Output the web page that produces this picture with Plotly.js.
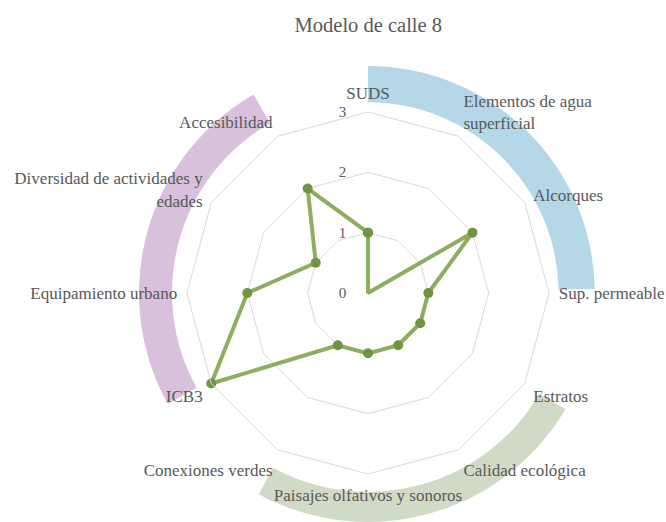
<!DOCTYPE html>
<html>
<head>
<meta charset="utf-8">
<script src="https://cdn.plot.ly/plotly-3.0.1.min.js"></script>
<style>
  html, body { margin: 0; padding: 0; background: #fff; }
  #myDiv { width: 666px; height: 522px; }
</style>
</head>
<body>
<div id="myDiv"></div>
<script>
// Radar categories, clockwise from the top
const categories = [
  'SUDS',
  'Elementos de agua<br>superficial',
  'Alcorques',
  'Sup. permeable',
  'Estratos',
  'Calidad ecológica',
  'Paisajes olfativos y sonoros',
  'Conexiones verdes',
  'ICB3',
  'Equipamiento urbano',
  'Diversidad de actividades y<br>edades',
  'Accesibilidad'
];
const scores = [1, 0, 2, 1, 1, 1, 1, 1, 3, 2, 1, 2];
const radialTicks = [0, 1, 2, 3];

// Grouping bands around the radar (degrees, clockwise from top)
const bandCenters = [44.5, 164.5, 285.5];
const bandWidths = [89, 88, 89];
const bandBase = [3.16, 3.3, 3.25];
const bandDepth = [0.6, 0.55, 0.55];
const bandColors = ['#b5d8e8', '#d1dac6', '#d9c0dc'];

// close the polygon
const thetaClosed = categories.concat([categories[0]]);
const rClosed = scores.concat([scores[0]]);

const textColor = '#595959';
const font = 'Liberation Serif, Times New Roman, serif';

const data = [
  {
    type: 'barpolar',
    subplot: 'polar',
    theta: bandCenters,
    width: bandWidths,
    base: bandBase,
    r: bandDepth,
    marker: { color: bandColors, line: { width: 0 } },
    hoverinfo: 'skip',
    showlegend: false,
  },
  {
    type: 'scatterpolar',
    subplot: 'polar2',
    mode: 'lines+markers',
    theta: thetaClosed,
    r: rClosed,
    line: { color: '#8cae5e', width: 4 },
    marker: { color: '#6f9443', size: 10 },
    showlegend: false,
  },
];

const layout = {
  width: 666,
  height: 522,
  margin: { l: 0, r: 0, t: 0, b: 0 },
  paper_bgcolor: '#ffffff',
  font: { family: font, color: textColor, size: 17 },
  title: {
    text: 'Modelo de calle 8',
    font: { family: font, size: 20.5, color: textColor },
    x: 0.553,
    xanchor: 'center',
    y: 0.952,
    yanchor: 'middle',
  },
  // band layer (drawn underneath)
  polar: {
    domain: { x: [0.2084, 0.8967], y: [0, 0.878] },
    bgcolor: 'rgba(0,0,0,0)',
    radialaxis: { range: [0, 3.8], visible: false },
    angularaxis: {
      type: 'linear',
      rotation: 90,
      direction: 'clockwise',
      visible: false,
    },
  },
  // radar layer
  polar2: {
    domain: { x: [0.2808, 0.8243], y: [0.092, 0.7854] },
    bgcolor: 'rgba(0,0,0,0)',
    gridshape: 'linear',
    radialaxis: {
      range: [0, 3],
      tickvals: radialTicks,
      angle: 90,
      tickangle: 90,
      side: 'counterclockwise',
      showline: false,
      ticks: 'outside',
      ticklen: 16,
      tickcolor: 'rgba(0,0,0,0)',
      gridcolor: '#d9d9d9',
      gridwidth: 1,
      tickfont: { family: font, size: 15, color: textColor },
    },
    angularaxis: {
      type: 'category',
      categoryarray: categories,
      rotation: 90,
      direction: 'clockwise',
      showgrid: false,
      showline: true,
      linecolor: '#d9d9d9',
      linewidth: 1,
      ticks: 'outside',
      ticklen: 6,
      tickcolor: 'rgba(0,0,0,0)',
      tickfont: { family: font, size: 17, color: textColor },
    },
  },
};

Plotly.newPlot('myDiv', data, layout, { staticPlot: true });
</script>
</body>
</html>
